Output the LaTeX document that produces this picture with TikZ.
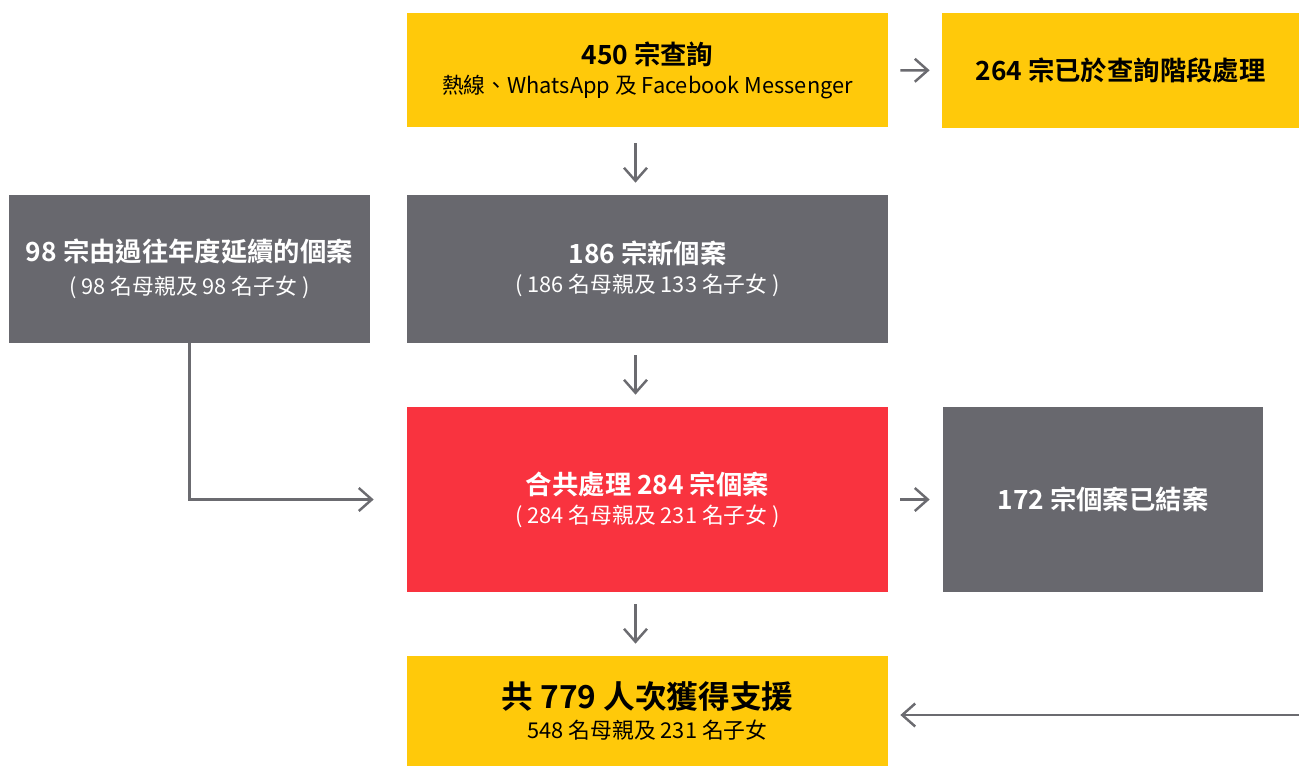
\documentclass[tikz,border=0pt]{standalone}
\usepackage{fontspec}
\setmainfont{Noto Sans CJK TC}[BoldFont={* Bold}]
\usetikzlibrary{arrows.meta}

\definecolor{boxyellow}{HTML}{FFC90A}
\definecolor{boxgrey}{HTML}{68686E}
\definecolor{boxred}{HTML}{F9333F}
\definecolor{arrowgrey}{HTML}{6B6B70}

\newcommand{\titlefont}{\fontsize{15}{16.5}\selectfont\bfseries}
\newcommand{\subfont}{\fontsize{12.4}{16.5}\selectfont}

\tikzset{
  card/.style={inner sep=0pt, align=center, minimum width=9.62cm,
    font=\fontsize{12.4}{16.5}\selectfont},
  yellowcard/.style={card, fill=boxyellow, text=black},
  greycard/.style={card, fill=boxgrey, text=white},
  redcard/.style={card, fill=boxred, text=white},
  flow/.style={draw=arrowgrey, line width=1.4pt,
    -{Straight Barb[length=2.6mm,width=4.6mm]}}
}

\begin{document}
\begin{tikzpicture}

	\useasboundingbox (0,0) rectangle (25.98,-15.32);

	% top row
	\node [yellowcard, minimum height=2.28cm] (query) at (12.95,-1.4)
		{{\titlefont 450 宗查詢}\\{\subfont 熱線、WhatsApp 及 Facebook Messenger}};
	\node [yellowcard, minimum width=7.14cm, minimum height=2.3cm] (early) at (22.41,-1.41)
		{\titlefont 264 宗已於查詢階段處理};

	% second row
	\node [greycard, minimum width=7.22cm, minimum height=2.96cm] (prev) at (3.79,-5.38)
		{{\titlefont 98 宗由過往年度延續的個案}\\[2.5pt]{\subfont ( 98 名母親及 98 名子女 )}};
	\node [greycard, minimum height=2.96cm] (new) at (12.95,-5.38)
		{{\titlefont 186 宗新個案}\\{\subfont ( 186 名母親及 133 名子女 )}};

	% third row
	\node [redcard, minimum height=3.7cm] (total) at (12.95,-9.99)
		{{\titlefont 合共處理 284 宗個案}\\{\subfont ( 284 名母親及 231 名子女 )}};
	\node [greycard, minimum width=6.4cm, minimum height=3.7cm] (closed) at (22.06,-9.99)
		{\titlefont 172 宗個案已結案};

	% bottom
	\node [yellowcard, minimum height=2.2cm] (support) at (12.95,-14.22)
		{{\fontsize{18}{19}\selectfont\bfseries 共 779 人次獲得支援}\\[1pt]{\subfont 548 名母親及 231 名子女}};
	\coordinate (edge) at (25.98,-14.3);

	% connectors
	\draw [flow, shorten <=0.24cm, shorten >=0.24cm] (query) -- (early);
	\draw [flow, shorten <=0.32cm, shorten >=0.24cm] ([xshift=-0.24cm]query.south) -- ([xshift=-0.24cm]new.north);
	\draw [flow, shorten <=0.24cm, shorten >=0.24cm] ([xshift=-0.24cm]new.south) -- ([xshift=-0.24cm]total.north);
	\draw [flow, shorten <=0.24cm, shorten >=0.24cm] ([xshift=-0.24cm]total.south) -- ([xshift=-0.24cm]support.north);
	\draw [flow, shorten >=0.66cm] (prev.south) |- (total.west);
	\draw [flow, shorten <=0.24cm, shorten >=0.26cm] (total) -- (closed);
	\draw [flow, shorten >=0.24cm] (edge) -- (support.east |- edge);

\end{tikzpicture}
\end{document}
